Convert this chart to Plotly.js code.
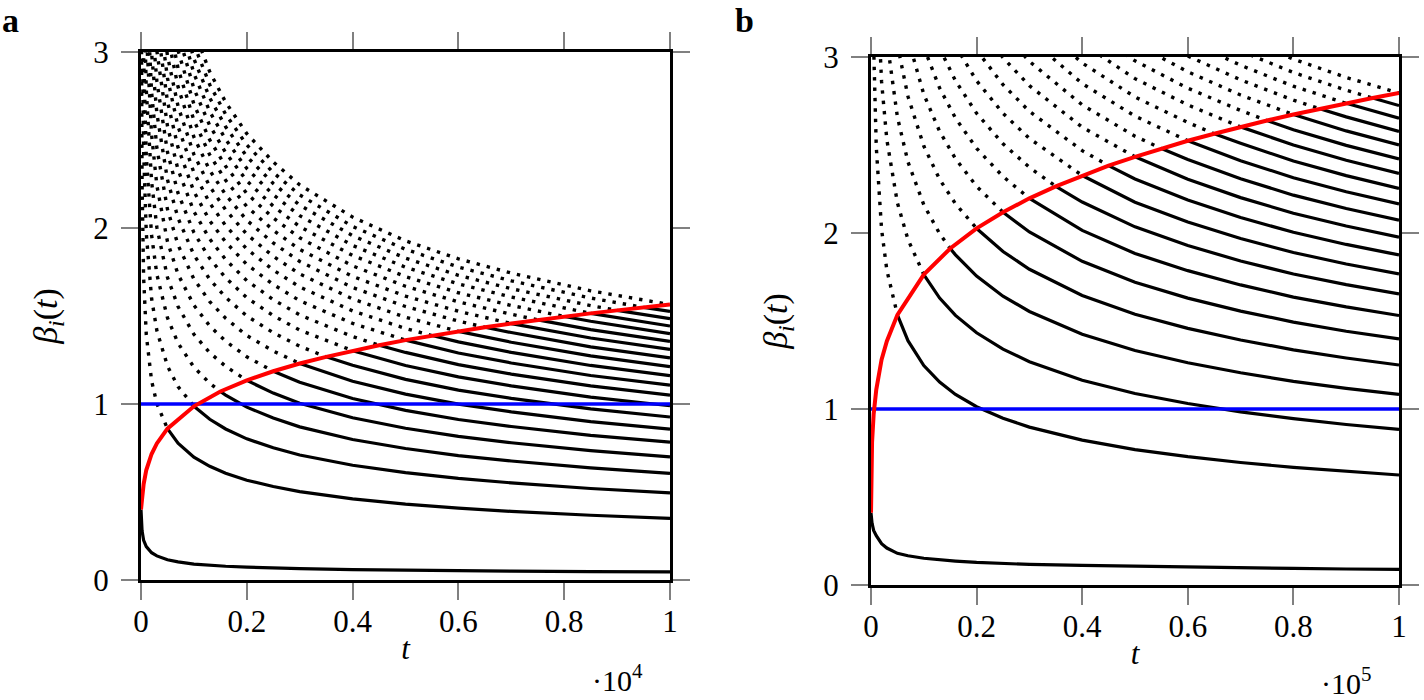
<!DOCTYPE html>
<html><head><meta charset="utf-8">
<script src="https://cdn.plot.ly/plotly-3.0.1.min.js"></script>
<style>html,body{margin:0;padding:0;background:#fff;}#chart{width:1424px;height:700px;}</style>
</head><body><div id="chart"></div>
<script>
// ---------- Panel a data (t up to 1e4) ----------
const A_T = [0, 2, 5, 10, 20, 50, 100, 200, 300, 500, 700, 1000, 1300, 1600, 2000, 2500, 3000, 4000, 5000, 6000, 7000, 8500, 10000];
const A_K0 = [0.40, 0.39, 0.36, 0.32, 0.28, 0.225, 0.19, 0.155, 0.137, 0.115, 0.103, 0.090, 0.083, 0.078, 0.073, 0.068, 0.065, 0.059, 0.055, 0.052, 0.050, 0.048, 0.046];
// each curve lists values for the last N grid times
const A_K1 = [3.42, 2.78, 2.26, 1.715, 1.393, 1.132, 1.002, 0.860, 0.777, 0.698, 0.646, 0.607, 0.567, 0.531, 0.502, 0.461, 0.431, 0.408, 0.390, 0.368, 0.350];
const A_K2 = [3.20, 2.43, 1.97, 1.60, 1.417, 1.216, 1.099, 0.987, 0.913, 0.858, 0.802, 0.751, 0.710, 0.652, 0.610, 0.577, 0.552, 0.520, 0.495];
const A_K3 = [3.91, 2.97, 2.41, 1.96, 1.736, 1.490, 1.346, 1.209, 1.118, 1.051, 0.982, 0.920, 0.870, 0.798, 0.747, 0.707, 0.676, 0.637, 0.606];
const A_K4 = [3.43, 2.786, 2.264, 2.004, 1.720, 1.554, 1.396, 1.291, 1.214, 1.134, 1.062, 1.004, 0.922, 0.862, 0.816, 0.780, 0.735, 0.700];
const A_K5 = [3.115, 2.531, 2.241, 1.923, 1.737, 1.561, 1.443, 1.357, 1.268, 1.187, 1.123, 1.031, 0.964, 0.912, 0.872, 0.822, 0.783];
const A_K6 = [3.412, 2.773, 2.454, 2.107, 1.903, 1.710, 1.581, 1.487, 1.389, 1.301, 1.230, 1.129, 1.056, 0.999, 0.955, 0.900, 0.857];
const A_K7 = [3.686, 2.995, 2.651, 2.275, 2.056, 1.847, 1.708, 1.606, 1.500, 1.405, 1.328, 1.220, 1.140, 1.079, 1.032, 0.972, 0.926];
const A_K8 = [3.202, 2.834, 2.432, 2.198, 1.974, 1.826, 1.717, 1.604, 1.502, 1.420, 1.304, 1.219, 1.154, 1.103, 1.039, 0.990];
const A_K9 = [3.006, 2.580, 2.331, 2.094, 1.937, 1.821, 1.701, 1.593, 1.506, 1.383, 1.293, 1.224, 1.170, 1.103, 1.050];
const A_K10 = [3.169, 2.720, 2.457, 2.207, 2.041, 1.920, 1.793, 1.679, 1.587, 1.458, 1.363, 1.290, 1.233, 1.162, 1.107];
const A_K11 = [3.323, 2.852, 2.577, 2.315, 2.141, 2.013, 1.881, 1.761, 1.665, 1.529, 1.429, 1.353, 1.293, 1.219, 1.161];
const A_K12 = [3.471, 2.979, 2.692, 2.418, 2.236, 2.103, 1.964, 1.839, 1.739, 1.597, 1.493, 1.413, 1.351, 1.273, 1.212];
const A_K13 = [3.101, 2.802, 2.517, 2.327, 2.189, 2.044, 1.915, 1.810, 1.662, 1.554, 1.471, 1.406, 1.325, 1.262];
const A_K14 = [3.218, 2.907, 2.612, 2.415, 2.271, 2.122, 1.987, 1.878, 1.725, 1.613, 1.527, 1.459, 1.375, 1.310];
const A_K15 = [3.009, 2.703, 2.500, 2.351, 2.196, 2.057, 1.944, 1.785, 1.669, 1.580, 1.510, 1.423, 1.356];
const A_K16 = [3.108, 2.792, 2.582, 2.428, 2.268, 2.124, 2.008, 1.844, 1.724, 1.632, 1.560, 1.470, 1.400];
const A_K17 = [3.204, 2.878, 2.661, 2.503, 2.338, 2.189, 2.070, 1.901, 1.777, 1.682, 1.608, 1.515, 1.443];
const A_K18 = [3.297, 2.961, 2.739, 2.575, 2.406, 2.253, 2.130, 1.956, 1.829, 1.731, 1.655, 1.559, 1.485];
const A_K19 = [3.043, 2.814, 2.646, 2.472, 2.315, 2.188, 2.009, 1.879, 1.778, 1.700, 1.602, 1.526];
const A_K20 = [3.122, 2.887, 2.715, 2.536, 2.375, 2.245, 2.062, 1.927, 1.825, 1.744, 1.643, 1.565];
const A_CROSS_T = [500, 1000, 1500, 2000, 2500, 3000, 3500, 4000, 4500, 5000, 5500, 6000, 6500, 7000, 7500, 8000, 8500, 9000, 9500, 10000];
const A_CROSS_Y = [0.860, 0.987, 1.071, 1.134, 1.186, 1.230, 1.268, 1.303, 1.334, 1.363, 1.389, 1.413, 1.436, 1.457, 1.478, 1.497, 1.515, 1.532, 1.549, 1.565];
const A_RED_T = [0, 10, 20, 50, 100, 200, 300, 500, 1000, 1500, 2000, 2500, 3000, 3500, 4000, 4500, 5000, 5500, 6000, 6500, 7000, 7500, 8000, 8500, 9000, 9500, 10000];
const A_RED_Y = [0.40, 0.42, 0.46, 0.545, 0.625, 0.716, 0.776, 0.860, 0.987, 1.071, 1.134, 1.186, 1.230, 1.268, 1.303, 1.334, 1.363, 1.389, 1.413, 1.436, 1.457, 1.478, 1.497, 1.515, 1.532, 1.549, 1.565];
const A_BLUE_T = [0, 10000];
const A_BLUE_Y = [1, 1];

// ---------- Panel b data (t up to 1e5) ----------
const B_T = [0, 20, 50, 100, 200, 500, 1000, 2000, 3000, 5000, 7000, 10000, 13000, 16000, 20000, 25000, 30000, 40000, 50000, 60000, 70000, 80000, 90000, 100000];
const B_K0 = [0.41, 0.40, 0.39, 0.37, 0.35, 0.31, 0.28, 0.235, 0.21, 0.18, 0.166, 0.152, 0.143, 0.136, 0.128, 0.122, 0.117, 0.111, 0.106, 0.101, 0.097, 0.094, 0.091, 0.089];
const B_K1 = [3.063, 2.488, 2.022, 1.789, 1.535, 1.388, 1.247, 1.153, 1.083, 1.013, 0.948, 0.897, 0.823, 0.769, 0.729, 0.696, 0.668, 0.645, 0.625];
const B_K2 = [3.519, 2.860, 2.530, 2.171, 1.963, 1.764, 1.630, 1.532, 1.433, 1.340, 1.269, 1.163, 1.088, 1.031, 0.984, 0.945, 0.912, 0.884];
const B_K3 = [3.099, 2.659, 2.404, 2.160, 1.996, 1.876, 1.755, 1.641, 1.554, 1.425, 1.332, 1.263, 1.206, 1.157, 1.117, 1.083];
const B_K4 = [3.070, 2.776, 2.494, 2.305, 2.166, 2.026, 1.895, 1.794, 1.645, 1.538, 1.458, 1.392, 1.336, 1.290, 1.250];
const B_K5 = [3.104, 2.788, 2.577, 2.422, 2.265, 2.119, 2.006, 1.839, 1.720, 1.630, 1.556, 1.494, 1.442, 1.398];
const B_K6 = [3.055, 2.823, 2.653, 2.481, 2.321, 2.197, 2.015, 1.884, 1.786, 1.705, 1.636, 1.580, 1.531];
const B_K7 = [3.049, 2.865, 2.680, 2.507, 2.373, 2.176, 2.035, 1.929, 1.841, 1.767, 1.707, 1.654];
const B_K8 = [3.063, 2.865, 2.680, 2.537, 2.326, 2.175, 2.062, 1.969, 1.889, 1.824, 1.768];
const B_K9 = [3.039, 2.843, 2.691, 2.468, 2.307, 2.187, 2.088, 2.004, 1.935, 1.875];
const B_K10 = [3.203, 2.996, 2.837, 2.601, 2.432, 2.305, 2.201, 2.112, 2.040, 1.976];
const B_K11 = [3.142, 2.975, 2.728, 2.550, 2.418, 2.308, 2.215, 2.139, 2.073];
const B_K12 = [3.107, 2.849, 2.664, 2.525, 2.411, 2.314, 2.234, 2.165];
const B_K13 = [3.234, 2.966, 2.773, 2.628, 2.510, 2.409, 2.326, 2.253];
const B_K14 = [3.078, 2.877, 2.728, 2.604, 2.500, 2.413, 2.339];
const B_K15 = [3.186, 2.978, 2.823, 2.696, 2.587, 2.498, 2.421];
const B_K16 = [3.076, 2.916, 2.784, 2.672, 2.580, 2.500];
const B_K17 = [3.006, 2.870, 2.755, 2.660, 2.577];
const B_K18 = [3.093, 2.953, 2.834, 2.737, 2.652];
const B_K19 = [3.034, 2.912, 2.811, 2.724];
const B_K20 = [3.113, 2.988, 2.884, 2.795];
const B_CROSS_T = [5000, 10000, 15000, 20000, 25000, 30000, 35000, 40000, 45000, 50000, 55000, 60000, 65000, 70000, 75000, 80000, 85000, 90000, 95000, 100000];
const B_CROSS_Y = [1.535, 1.764, 1.912, 2.026, 2.118, 2.197, 2.265, 2.327, 2.383, 2.433, 2.480, 2.524, 2.564, 2.603, 2.639, 2.673, 2.706, 2.737, 2.767, 2.795];
const B_RED_T = [0, 10, 50, 200, 500, 1000, 2000, 3000, 5000, 10000, 15000, 20000, 25000, 30000, 35000, 40000, 45000, 50000, 55000, 60000, 65000, 70000, 75000, 80000, 85000, 90000, 95000, 100000];
const B_RED_Y = [0.41, 0.45, 0.61, 0.81, 0.97, 1.11, 1.28, 1.385, 1.535, 1.764, 1.912, 2.026, 2.118, 2.197, 2.265, 2.327, 2.383, 2.433, 2.480, 2.524, 2.564, 2.603, 2.639, 2.673, 2.706, 2.737, 2.767, 2.795];
const B_BLUE_T = [0, 100000];
const B_BLUE_Y = [1, 1];

// ---------- ticks ----------
const A_XTICKS = [0, 2000, 4000, 6000, 8000, 10000];
const B_XTICKS = [0, 20000, 40000, 60000, 80000, 100000];
const X_TICKTEXT = ['0', '0.2', '0.4', '0.6', '0.8', '1'];
const Y_TICKS = [0, 1, 2, 3];

const A_CURVES = [A_K1, A_K2, A_K3, A_K4, A_K5, A_K6, A_K7, A_K8, A_K9, A_K10, A_K11, A_K12, A_K13, A_K14, A_K15, A_K16, A_K17, A_K18, A_K19, A_K20];
const B_CURVES = [B_K1, B_K2, B_K3, B_K4, B_K5, B_K6, B_K7, B_K8, B_K9, B_K10, B_K11, B_K12, B_K13, B_K14, B_K15, B_K16, B_K17, B_K18, B_K19, B_K20];

const FONT = '"Liberation Serif", serif';
const BLACK_W = 3.2;

function panelTraces(T, K0, curves, crossT, crossY, redT, redY, blueT, blueY, xa, ya) {
  const dotted = [], solid = [];
  curves.forEach((ys, i) => {
    const ts = T.slice(T.length - ys.length);
    const tc = crossT[i], yc = crossY[i];
    const dx = [], dy = [], sx = [tc], sy = [yc];
    ts.forEach((t, j) => {
      if (t < tc) { dx.push(t); dy.push(ys[j]); }
      else if (t > tc) { sx.push(t); sy.push(ys[j]); }
    });
    dx.push(tc); dy.push(yc);
    dotted.push({x: dx, y: dy, mode: 'lines', xaxis: xa, yaxis: ya, showlegend: false, hoverinfo: 'skip',
      line: {color: '#000', width: 3.4, dash: '3.4px,7px'}});
    solid.push({x: sx, y: sy, mode: 'lines', xaxis: xa, yaxis: ya, showlegend: false, hoverinfo: 'skip',
      line: {color: '#000', width: BLACK_W}});
  });
  const bottom = {x: T, y: K0, mode: 'lines', xaxis: xa, yaxis: ya, showlegend: false, hoverinfo: 'skip',
    line: {color: '#000', width: BLACK_W}};
  const blue = {x: blueT, y: blueY, mode: 'lines', xaxis: xa, yaxis: ya, showlegend: false, hoverinfo: 'skip',
    line: {color: '#0000ff', width: 3.4}};
  const red = {x: redT, y: redY, mode: 'lines', xaxis: xa, yaxis: ya, showlegend: false, hoverinfo: 'skip',
    line: {color: '#ff0000', width: 4}};
  return [...dotted, ...solid, bottom, blue, red];
}

const data = [
  ...panelTraces(A_T, A_K0, A_CURVES, A_CROSS_T, A_CROSS_Y, A_RED_T, A_RED_Y, A_BLUE_T, A_BLUE_Y, 'x', 'y'),
  ...panelTraces(B_T, B_K0, B_CURVES, B_CROSS_T, B_CROSS_Y, B_RED_T, B_RED_Y, B_BLUE_T, B_BLUE_Y, 'x2', 'y2')
];

const W = 1424, H = 700;
function axisBase() {
  return {
    showline: true, linecolor: '#000', linewidth: 3, mirror: 'ticks',
    ticks: 'outside', ticklen: 17, tickwidth: 2, tickcolor: '#808080',
    showgrid: false, zeroline: false, automargin: false,
    tickfont: {family: FONT, size: 31, color: '#000'}
  };
}
function xAxis(domPx, anchor, range, tickvals) {
  return Object.assign(axisBase(), {
    domain: [domPx[0] / W, domPx[1] / W], anchor: anchor, range: range,
    tickmode: 'array', tickvals: tickvals, ticktext: X_TICKTEXT, ticklabelstandoff: -5,
    title: {text: '<i>t</i>', font: {family: FONT, size: 31, color: '#000'}, standoff: 0}
  });
}
function yAxis(domPx, anchor) {
  return Object.assign(axisBase(), {
    domain: [1 - domPx[1] / H, 1 - domPx[0] / H], anchor: anchor, range: [0, 3],
    tickmode: 'array', tickvals: Y_TICKS, ticklabelstandoff: 6,
    title: {text: '<i>β<sub>i</sub></i>(<i>t</i>)', font: {family: FONT, size: 34, color: '#000'}, standoff: 26}
  });
}

const layout = {
  width: W, height: H,
  margin: {l: 0, r: 0, t: 0, b: 0},
  paper_bgcolor: '#fff', plot_bgcolor: '#fff',
  showlegend: false,
  xaxis: xAxis([141, 670], 'y', [0, 10000], A_XTICKS),
  yaxis: yAxis([52, 580], 'x'),
  xaxis2: xAxis([871, 1399], 'y2', [0, 100000], B_XTICKS),
  yaxis2: yAxis([57, 585], 'x2'),
  annotations: [
    {text: '<b>a</b>', xref: 'paper', yref: 'paper', x: 10 / W, y: 1, xanchor: 'center', yanchor: 'top',
     showarrow: false, font: {family: FONT, size: 34, color: '#000'}},
    {text: '<b>b</b>', xref: 'paper', yref: 'paper', x: 744 / W, y: 1, xanchor: 'center', yanchor: 'top',
     showarrow: false, font: {family: FONT, size: 34, color: '#000'}},
    {text: '·10<sup>4</sup>', xref: 'paper', yref: 'paper', x: 617 / W, y: 1 - 678 / H, xanchor: 'center', yanchor: 'middle',
     showarrow: false, font: {family: FONT, size: 30, color: '#000'}},
    {text: '·10<sup>5</sup>', xref: 'paper', yref: 'paper', x: 1346 / W, y: 1 - 681 / H, xanchor: 'center', yanchor: 'middle',
     showarrow: false, font: {family: FONT, size: 30, color: '#000'}}
  ]
};

Plotly.newPlot('chart', data, layout, {staticPlot: true, displayModeBar: false});
</script>
</body></html>
